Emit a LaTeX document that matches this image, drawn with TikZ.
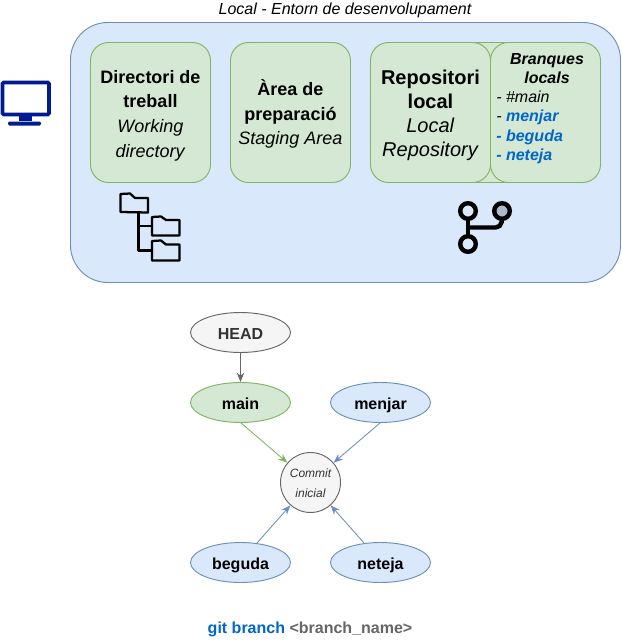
\documentclass[tikz,border=0pt]{standalone}
\usepackage{fontspec}
\setmainfont{Liberation Sans}
\definecolor{bluefill}{HTML}{DAE8FC}
\definecolor{blueline}{HTML}{6C8EBF}
\definecolor{greenfill}{HTML}{D5E8D4}
\definecolor{greenline}{HTML}{82B366}
\definecolor{greyfill}{HTML}{F5F5F5}
\definecolor{greyline}{HTML}{666666}
\definecolor{greytext}{HTML}{333333}
\definecolor{branchblue}{HTML}{0066CC}
\definecolor{iconblue}{HTML}{001A8F}
\definecolor{iconfill}{HTML}{ABB8CC}
\tikzset{
  areabox/.style={draw=greenline,fill=greenfill,rounded corners=13.5pt,line width=0.7pt,inner sep=0pt,minimum width=90pt,minimum height=105pt},
  areatext/.style={align=center,inner sep=0pt,font=\fontsize{13.5}{18.5}\selectfont},
  branch/.style={ellipse,draw=blueline,fill=bluefill,line width=0.7pt,minimum width=75pt,minimum height=30pt,inner sep=0pt,text height=11pt,text depth=0.8pt,font=\fontsize{12}{14}\selectfont\bfseries},
  tobase/.style={-{Stealth[length=7pt,width=5.5pt]},line width=0.65pt},
  iconline/.style={line width=1.7pt,line join=round,line cap=round},
  gitline/.style={line width=3.3pt}
}
\usetikzlibrary{shapes.geometric,arrows.meta}
\begin{document}
\begin{tikzpicture}[x=0.75pt,y=-0.75pt]
\useasboundingbox (0,0) rectangle (621,642);

\node[font=\fontsize{12}{14}\selectfont\itshape] (title) at (345,10.5) {Local - Entorn de desenvolupament};
\draw[draw=blueline,fill=bluefill,line width=0.7pt,rounded corners=28pt] (70.5,22.5) rectangle (620.5,282.5);

\node[areabox] (treball) at (150.5,112.5) {};
\node[areatext] (treballtext) at (150.5,115.5) {\textbf{Directori de}\\\textbf{treball}\\\textit{Working}\\\textit{directory}};
\node[areabox] (prep) at (290.5,112.5) {};
\node[areatext] (preptext) at (290.5,114) {\textbf{Àrea de}\\\textbf{preparació}\\\textit{Staging Area}};
\node[areabox] (back) at (460,112.5) {};
\node[areabox] (repo) at (430.5,112.5) {};
\node[areatext,font=\fontsize{15}{18}\selectfont] (repotext) at (430.5,115.5) {\textbf{Repositori}\\\textbf{local}\\\textit{Local}\\\textit{Repository}};
\node[areabox,minimum width=82.5pt] (locals) at (545.5,112.5) {};
\node[align=center,font=\fontsize{12}{14.4}\selectfont\bfseries\itshape] (bran) at (547,68.5) {Branques\\locals};
\node[anchor=north west,align=left,inner sep=0pt,font=\fontsize{12}{14.6}\selectfont\itshape] (llista) at (496,90.5) {- \#main\\- \textcolor{branchblue}{\textbf{menjar}}\\\textcolor{branchblue}{\textbf{- beguda}}\\\textcolor{branchblue}{\textbf{- neteja}}};

% ordinador
\draw[iconblue,line width=2.8pt,rounded corners=1pt] (2.5,82.5) rectangle (49,114.5);
\fill[iconblue] (19,115) rectangle (32,121);
\fill[iconblue,rounded corners=1pt] (8,121.5) rectangle (41,125.5);

% carpetes
\draw[iconline] (120.5,212) -- (120.5,194) -- (130,193.5) -- (135,198) -- (148,198) -- (148,212.5) -- cycle;
\draw[iconline] (152,235.5) -- (152,217) -- (161,216.5) -- (166,220) -- (179.5,220) -- (179.5,235.5) -- cycle;
\draw[iconline] (152,260.5) -- (152,241) -- (161,240.5) -- (166,244.5) -- (179.5,244.5) -- (179.5,260.5) -- cycle;
\draw[iconline] (138.5,212.5) -- (138.5,250.5) -- (152,250.5);
\draw[iconline] (138.5,226) -- (152,226);

% branca
\draw[gitline] (468,219) -- (468,236);
\draw[gitline,rounded corners=4pt] (468,227.5) -- (501,227.5) -- (502,219);
\draw[gitline,fill=bluefill] (468,211) circle (7.8);
\draw[gitline,fill=iconfill] (502,211) circle (7.8);
\draw[gitline,fill=bluefill] (468,244) circle (7.8);

\node[branch,draw=greyline,fill=greyfill,text=greytext] (head) at (240.5,332.5) {HEAD};
\node[branch,draw=greenline,fill=greenfill] (main) at (240.5,402.5) {main};
\node[branch] (menjar) at (380.5,402.5) {menjar};
\node[branch] (beguda) at (240.5,562.5) {beguda};
\node[branch] (neteja) at (380.5,562.5) {neteja};
\node[circle,draw=greyline,fill=greyfill,line width=0.7pt,minimum size=45pt,inner sep=0pt] (commit) at (310.5,482.5) {};
\node[text=greytext,align=center,inner sep=0pt,font=\fontsize{9}{15}\selectfont\itshape] (committext) at (310.5,483.5) {Commit\\inicial};

\coordinate (mainb) at (240.5,422.5);
\coordinate (menjarb) at (380.5,422.5);
\coordinate (begudat) at (257,543);
\coordinate (netejat) at (364,543);
\draw[tobase,greyline] (head) -- (main);
\draw[tobase,greenline] (mainb) -- (commit);
\draw[tobase,blueline] (menjarb) -- (commit);
\draw[tobase,blueline] (begudat) -- (commit);
\draw[tobase,blueline] (netejat) -- (commit);

\node[font=\fontsize{12}{14}\selectfont\bfseries] (ordre) at (310,629) {\textcolor{branchblue}{git branch} \textcolor{greyline}{<branch\_name>}};
\end{tikzpicture}
\end{document}
